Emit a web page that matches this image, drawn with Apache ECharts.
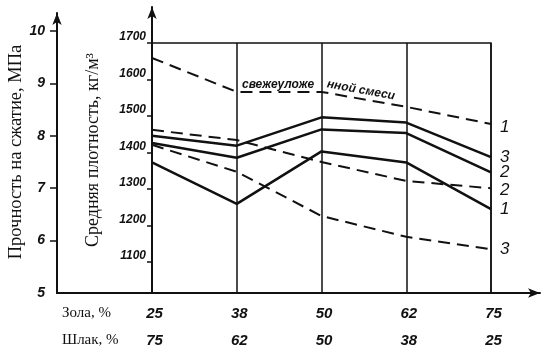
<!DOCTYPE html>
<html><head><meta charset="utf-8">
<script src="https://cdn.jsdelivr.net/npm/echarts@6/dist/echarts.min.js"></script>
<style>html,body{margin:0;padding:0;background:#fff}#c{width:548px;height:355px}</style>
</head><body><div id="c"></div>
<script>
// Categories: ash / slag share
const categories = ['25/75', '38/62', '50/50', '62/38', '75/25'];
const zolaLabels = ['25', '38', '50', '62', '75'];
const shlakLabels = ['75', '62', '50', '38', '25'];
const strengthTicks = [5, 6, 7, 8, 9, 10];
const densityTicks = [1100, 1200, 1300, 1400, 1500, 1600, 1700];
// Strength, MPa (solid lines)
const strength1 = [7.49, 6.70, 7.70, 7.49, 6.60];
const strength2 = [7.86, 7.58, 8.12, 8.05, 7.30];
const strength3 = [8.00, 7.81, 8.35, 8.25, 7.59];
// Density, kg/m3 (dashed lines)
const densityFresh = [1659, 1566, 1566, 1525, 1478];
const density2 = [1462, 1434, 1374, 1322, 1302];
const density3 = [1421, 1347, 1226, 1169, 1135];

const INK = '#111';
const numFont = {fontFamily: 'Liberation Sans', fontStyle: 'italic', fontWeight: 'bold', color: INK};
const chart = echarts.init(document.getElementById('c'), null, {renderer: 'canvas'});

function solid(name, data, label) {
  return {
    name, type: 'line', xAxisIndex: 1, yAxisIndex: 1, data, symbol: 'none',
    lineStyle: {color: INK, width: 2.5}, silent: true,
    endLabel: {show: true, formatter: label, distance: 9, fontFamily: 'Liberation Sans', fontStyle: 'italic', fontSize: 17, color: INK}
  };
}
function dashed(name, data, label, dy) {
  return {
    name, type: 'line', xAxisIndex: 2, yAxisIndex: 2, data, symbol: 'none',
    lineStyle: {color: INK, width: 2, type: [12, 7]}, silent: true,
    endLabel: {show: true, formatter: label, distance: 9, offset: [0, dy], fontFamily: 'Liberation Sans', fontStyle: 'italic', fontSize: 17, color: INK}
  };
}

chart.setOption({
  animation: false,
  backgroundColor: '#fff',
  grid: [
    {left: 152, right: 57, top: 43, bottom: 62, outerBoundsMode: 'none', containLabel: false, show: true, borderColor: INK, borderWidth: 1.5},
    {left: 152, right: 57, top: 13, bottom: 62, outerBoundsMode: 'none', containLabel: false},
    {left: 152, right: 57, top: 7, bottom: 62, outerBoundsMode: 'none', containLabel: false},
    {left: 57, right: 8, top: 13, bottom: 62, outerBoundsMode: 'none', containLabel: false}
  ],
  xAxis: [
    {gridIndex: 0, type: 'category', boundaryGap: false, data: categories,
     axisLine: {show: false}, axisTick: {show: false},
     splitLine: {show: true, lineStyle: {color: INK, width: 1.5}},
     axisLabel: {margin: 7, interval: 0, lineHeight: 27,
       formatter: (v, i) => '{a|' + zolaLabels[i] + '}\n{a|' + shlakLabels[i] + '}',
       rich: {a: Object.assign({fontSize: 15, lineHeight: 27, padding: [0, 0, 0, 5]}, numFont)}}},
    {gridIndex: 1, type: 'category', boundaryGap: false, data: categories, show: false},
    {gridIndex: 2, type: 'category', boundaryGap: false, data: categories, show: false},
    {gridIndex: 3, type: 'value', min: 0, max: 1,
     axisLine: {show: true, symbol: ['none', 'arrow'], symbolSize: [7, 12], lineStyle: {color: INK, width: 2}},
     axisTick: {show: false}, axisLabel: {show: false}, splitLine: {show: false}}
  ],
  yAxis: [
    {gridIndex: 0, type: 'value', min: 0, max: 1, show: false},
    {gridIndex: 1, type: 'value', min: 5, max: 10.34, position: 'left', offset: 95,
     axisLine: {show: true, symbol: ['none', 'arrow'], symbolSize: [7, 12], lineStyle: {color: INK, width: 2}},
     axisTick: {show: true, length: 7, customValues: [6, 7, 8, 9, 10], lineStyle: {color: INK, width: 1.5}},
     axisLabel: Object.assign({customValues: strengthTicks, margin: 12, fontSize: 14, verticalAlign: 'middle', lineHeight: 14, padding: [0, 0, 8, 0]}, numFont),
     splitLine: {show: false}},
    {gridIndex: 2, type: 'value', min: 1015, max: 1798.6, position: 'left',
     axisLine: {show: true, symbol: ['none', 'arrow'], symbolSize: [7, 12], lineStyle: {color: INK, width: 2}},
     axisTick: {show: true, length: 5, customValues: densityTicks, lineStyle: {color: INK, width: 1.5}},
     axisLabel: Object.assign({customValues: densityTicks, formatter: v => String(v), margin: 6, fontSize: 12, verticalAlign: 'bottom', lineHeight: 12}, numFont),
     splitLine: {show: false},
     name: 'Средняя плотность, кг/м³', nameLocation: 'middle', nameGap: 50, nameRotate: 90,
     nameTextStyle: {fontFamily: 'Liberation Serif', fontSize: 18, color: INK}},
    {gridIndex: 3, type: 'value', min: 0, max: 1, show: false}
  ],
  graphic: [
    {type: 'text', x: 16, y: 152, rotation: Math.PI / 2, style: {text: 'Прочность на сжатие, МПа', font: '18.5px "Liberation Serif"', fill: INK, align: 'center', verticalAlign: 'middle'}},
    {type: 'text', x: 62, y: 313, style: {text: 'Зола, %', font: '15px "Liberation Serif"', fill: INK, verticalAlign: 'middle'}},
    {type: 'text', x: 62, y: 340, style: {text: 'Шлак, %', font: '15px "Liberation Serif"', fill: INK, verticalAlign: 'middle'}},
    {type: 'text', x: 242, y: 85, style: {text: 'свежеуложе', font: 'italic bold 12px "Liberation Sans"', fill: INK, verticalAlign: 'middle'}},
    {type: 'text', x: 327, y: 84, rotation: -0.18, style: {text: 'нной смеси', font: 'italic bold 12px "Liberation Sans"', fill: INK, verticalAlign: 'middle'}}
  ],
  series: [
    solid('Прочность 1', strength1, '1'),
    solid('Прочность 2', strength2, '2'),
    solid('Прочность 3', strength3, '3'),
    dashed('Плотность свежеуложенной смеси', densityFresh, '1', 3),
    dashed('Плотность 2', density2, '2', 2),
    dashed('Плотность 3', density3, '3', 0)
  ]
});
</script>
</body></html>
